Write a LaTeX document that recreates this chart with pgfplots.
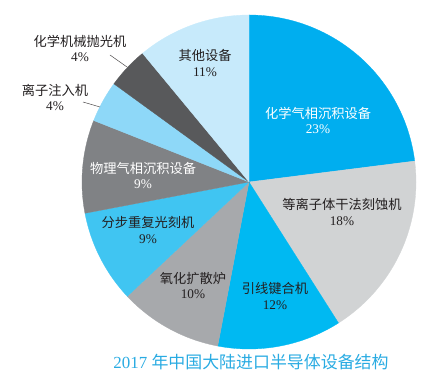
\documentclass[border=0pt]{standalone}
\usepackage{pgfplots}
\pgfplotsset{compat=1.18}
\usepackage{fontspec}
\setmainfont{Liberation Serif}
\newfontfamily\cjk{Noto Sans CJK SC}
\definecolor{cA}{RGB}{0,174,239}
\definecolor{cB}{RGB}{209,211,212}
\definecolor{cC}{RGB}{0,185,242}
\definecolor{cD}{RGB}{167,169,172}
\definecolor{cE}{RGB}{64,197,242}
\definecolor{cF}{RGB}{128,130,133}
\definecolor{cG}{RGB}{142,216,248}
\definecolor{cH}{RGB}{88,89,91}
\definecolor{cI}{RGB}{199,234,251}
\definecolor{txt}{RGB}{35,31,32}
\definecolor{ttl}{RGB}{41,171,226}
% slice: cumulative percent start, cumulative percent end, colour
\newcommand\slice[3]{\addplot[fill=#3,draw=#3,line width=0.3pt,domain={90-3.6*#1}:{90-3.6*#2},samples=90] ({167*cos(x)},{167*sin(x)}) -- (0,0) -- cycle;}
\begin{document}
\begin{tikzpicture}
\begin{axis}[
  scale only axis, width=447bp, height=375bp,
  xmin=-249, xmax=198, ymin=-193, ymax=182,
  hide axis, clip=false,
]
% values: 23, 18, 12, 10, 9, 9, 4, 4, 11 (percent)
\slice{0}{23}{cA}
\slice{23}{41}{cB}
\slice{41}{53}{cC}
\slice{53}{63}{cD}
\slice{63}{72}{cE}
\slice{72}{81}{cF}
\slice{81}{85}{cG}
\slice{85}{89}{cH}
\slice{89}{100}{cI}
% leader lines
\addplot[draw=txt!80, line width=0.5pt] coordinates {(-139,127) (-122,115)};
\addplot[draw=txt!80, line width=0.5pt] coordinates {(-166,80) (-149,75)};
\tikzset{lab/.style={align=center, font=\fontsize{13.3}{15.8}\selectfont, text=txt, inner sep=0pt}}
\node[lab, text=white] at (axis cs:69,61.5) {{\cjk 化学气相沉积设备}\\23\%};
\node[lab] at (axis cs:93,-30) {{\cjk 等离子体干法刻蚀机}\\18\%};
\node[lab] at (axis cs:26,-114) {{\cjk 引线键合机}\\12\%};
\node[lab] at (axis cs:-56,-103.5) {{\cjk 氧化扩散炉}\\10\%};
\node[lab] at (axis cs:-101,-48) {{\cjk 分步重复光刻机}\\9\%};
\node[lab, text=white] at (axis cs:-106,6.5) {{\cjk 物理气相沉积设备}\\9\%};
\node[lab] at (axis cs:-194,84.5) {{\cjk 离子注入机}\\4\%};
\node[lab] at (axis cs:-169,133.5) {{\cjk 化学机械抛光机}\\4\%};
\node[lab] at (axis cs:-44,119) {{\cjk 其他设备}\\11\%};
\node[font=\fontsize{17}{19}\selectfont, text=ttl, inner sep=0pt] at (axis cs:2,-180) {2017 {\cjk 年中国大陆进口半导体设备结构}};
\end{axis}
\pgfresetboundingbox
\path (current axis.south west) rectangle (current axis.north east);
\end{tikzpicture}
\end{document}
